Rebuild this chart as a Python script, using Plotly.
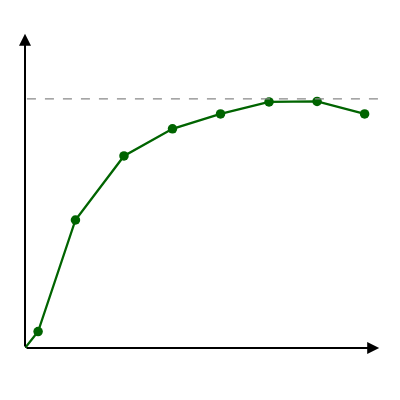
import plotly.graph_objects as go

x_vals = [0, 0.27, 1.04, 2.04, 3.04, 4.03, 5.03, 6.02, 7.0]
y_vals = [0, 0.066, 0.514, 0.771, 0.880, 0.940, 0.988, 0.990, 0.940]
marker_sizes = [0, 9.5, 9.5, 9.5, 9.5, 9.5, 9.5, 9.5, 9.5]
asymptote = 1.0

X_MAX = 7.42
Y_MAX = 1.317

fig = go.Figure()
fig.add_trace(go.Scatter(
    x=x_vals, y=y_vals, mode="lines+markers",
    line=dict(color="#006400", width=2.3),
    marker=dict(color="#006400", size=marker_sizes, opacity=1, line=dict(width=0)),
    cliponaxis=False, showlegend=False,
))

fig.add_shape(type="line", x0=0.04, x1=7.4, y0=asymptote, y1=asymptote,
              xref="x", yref="y", line=dict(color="#888888", width=1.2, dash="dash"))

# axes with arrows
fig.add_annotation(x=7.3, y=0, ax=0, ay=0, xref="x", yref="y", axref="x", ayref="y",
                   showarrow=True, arrowhead=2, arrowsize=1.2, arrowwidth=2, arrowcolor="black", text="")
fig.add_annotation(x=0, y=1.262, ax=0, ay=0, xref="x", yref="y", axref="x", ayref="y",
                   showarrow=True, arrowhead=2, arrowsize=1.2, arrowwidth=2, arrowcolor="black", text="")

fig.update_xaxes(range=[0, X_MAX], visible=False, fixedrange=True)
fig.update_yaxes(range=[0, Y_MAX], visible=False, fixedrange=True)
fig.update_layout(
    width=400, height=400,
    margin=dict(l=17, r=23, t=12, b=60),
    paper_bgcolor="white", plot_bgcolor="white",
)
fig.write_html("out.html")
